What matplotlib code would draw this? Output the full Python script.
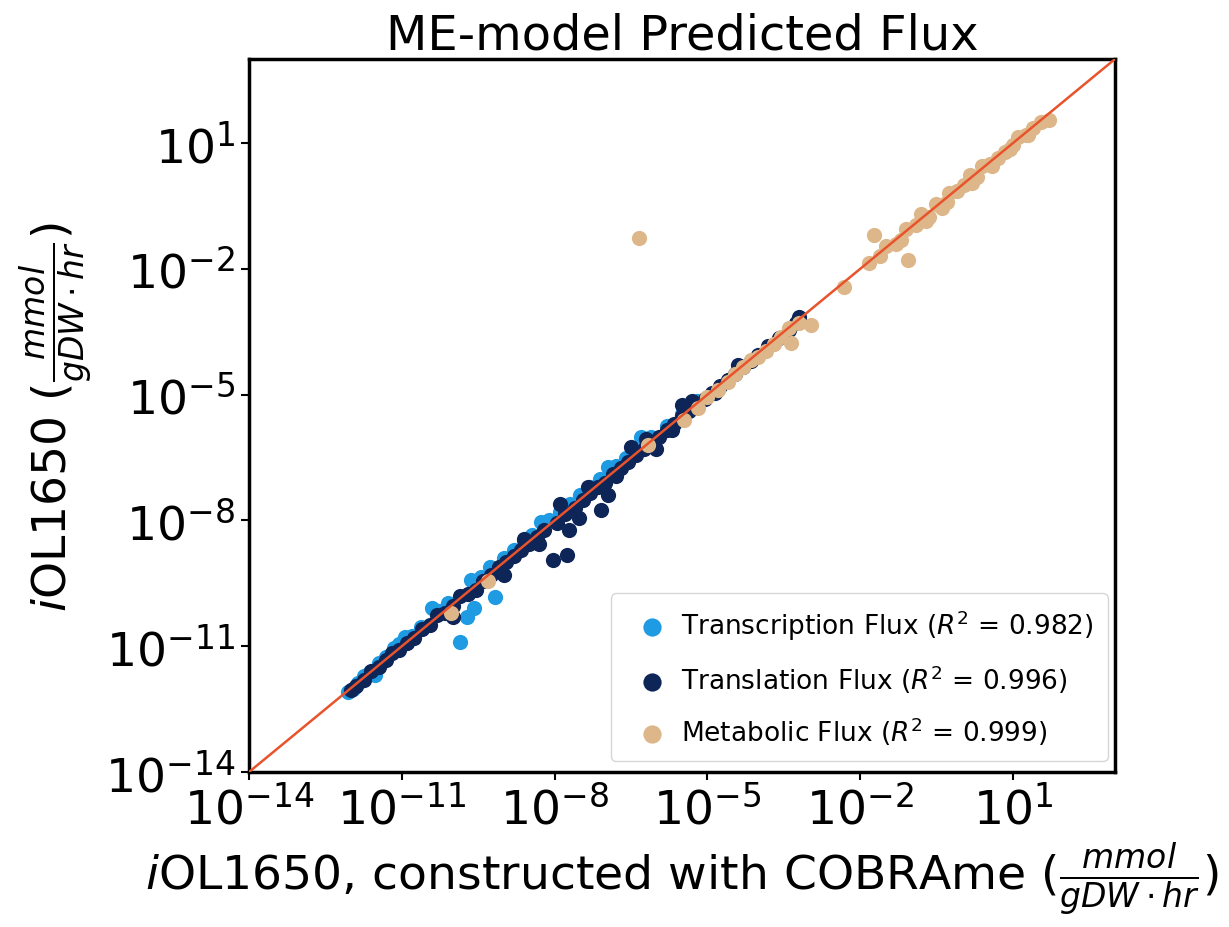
import numpy as np
import matplotlib
matplotlib.use("Agg")
import matplotlib.pyplot as plt

# log10 values
trans_x = [-12.05, -11.95, -11.85, -11.75, -11.62, -11.52, -11.45, -11.30, -11.15, -11.05,
           -10.93, -10.80, -10.62, -10.40, -10.25, -10.10, -9.85, -9.71, -9.65, -9.59,
           -9.45, -9.26, -9.16, -9.00, -8.80, -8.60, -8.45, -8.27, -8.10, -7.90,
           -7.70, -7.50, -7.30, -7.10, -6.95, -6.80, -6.60, -6.30, -6.10, -5.80,
           -5.50, -5.20]
trans_y = [-12.10, -12.02, -11.88, -11.70, -11.62, -11.68, -11.40, -11.25, -11.05, -10.95,
           -10.78, -10.75, -10.55, -10.09, -10.15, -9.98, -10.90, -10.30, -9.42, -10.09,
           -9.35, -9.11, -9.82, -8.90, -8.70, -8.50, -8.35, -8.03, -8.00, -7.80,
           -7.60, -7.40, -7.20, -7.00, -6.72, -6.70, -6.50, -6.00, -6.00, -5.75,
           -5.45, -5.15]

transl_x = [-12.00, -11.90, -11.75, -11.60, -11.45, -11.30, -11.20, -11.05, -10.90, -10.75,
            -10.60, -10.45, -10.30, -10.15, -10.00, -10.00, -9.85, -9.70, -9.55, -9.40,
            -9.25, -9.10, -9.00, -8.95, -8.80, -8.65, -8.50, -8.35, -8.20, -8.04,
            -7.95, -7.90, -7.80, -7.76, -7.72, -7.60, -7.52, -7.45, -7.30, -7.15,
            -7.09, -7.00, -6.95, -6.85, -6.70, -6.55, -6.50, -6.40, -6.25, -6.10,
            -6.00, -5.95, -5.80, -5.65, -5.50, -5.50, -5.35, -5.20, -5.05, -4.90,
            -4.75, -4.60, -4.45, -4.30, -4.15, -4.00, -3.80, -3.60, -3.40, -3.25,
            -3.20, -8.60, -8.30, -7.35, -6.80, -6.20, -5.70, -5.30, -4.85, -4.40]
transl_y = [-12.05, -11.95, -11.80, -11.60, -11.50, -11.32, -11.15, -11.10, -10.92, -10.80,
            -10.60, -10.50, -10.25, -10.20, -10.05, -10.30, -9.80, -9.75, -9.65, -9.45,
            -9.30, -9.12, -9.30, -8.98, -8.85, -8.70, -8.55, -8.40, -8.22, -8.94,
            -8.05, -7.60, -7.85, -8.82, -8.22, -7.70, -7.94, -7.50, -7.35, -7.20,
            -7.75, -7.10, -7.40, -6.90, -6.75, -6.60, -6.25, -6.45, -6.30, -6.15,
            -6.30, -6.00, -5.85, -5.70, -5.50, -5.25, -5.40, -5.25, -5.10, -4.95,
            -4.80, -4.65, -4.50, -4.35, -4.20, -4.05, -3.85, -3.65, -3.45, -3.30,
            -3.15, -8.45, -8.55, -7.20, -6.95, -6.05, -5.85, -5.15, -4.95, -4.30]

metab_x = [-10.04, -9.31, -6.34, -6.17, -5.46, -5.18, -5.00, -4.79, -4.60, -4.45,
           -4.30, -4.14, -4.00, -3.85, -3.70, -3.55, -3.35, -3.40, -3.20, -2.96,
           -2.31, -1.83, -1.72, -1.50, -1.30, -1.05, -1.10, -0.90, -0.80, -0.65,
           -0.50, -0.40, -0.25, -0.10, 0.05, 0.15, 0.30, 0.40, 0.55, 0.70,
           0.85, 1.00, 1.10, 1.25, 1.40, 1.55, 1.71, -1.60, -1.20, -0.70,
           -0.30, 0.20, 0.60, 0.95, 1.30]
metab_y = [-10.20, -9.45, -1.26, -6.20, -5.60, -5.31, -5.05, -4.88, -4.70, -4.50,
           -4.35, -4.17, -4.10, -3.95, -3.80, -3.62, -3.76, -3.42, -3.28, -3.33,
           -2.42, -1.85, -1.18, -1.45, -1.40, -1.78, -1.05, -0.95, -0.70, -0.75,
           -0.45, -0.55, -0.20, -0.15, 0.00, 0.25, 0.20, 0.45, 0.50, 0.65,
           0.80, 0.95, 1.15, 1.20, 1.35, 1.50, 1.56, -1.70, -1.30, -0.85,
           -0.40, 0.05, 0.45, 0.85, 1.20]

labels = [r"Transcription Flux ($R^2$ = 0.982)",
          r"Translation Flux ($R^2$ = 0.996)",
          r"Metabolic Flux ($R^2$ = 0.999)"]
colors = ["#1E9BE2", "#0E2558", "#DDB789"]
limits = [1e-14, 1e3]
tick_vals = [1e-14, 1e-11, 1e-8, 1e-5, 1e-2, 1e1]

fig = plt.figure(figsize=(12.29, 9.28), dpi=100)
ax = fig.add_axes([0.2026, 0.167, 0.7044, 0.768])

for xs, ys, lab, col in [(trans_x, trans_y, labels[0], colors[0]),
                         (transl_x, transl_y, labels[1], colors[1]),
                         (metab_x, metab_y, labels[2], colors[2])]:
    ax.scatter(10.0 ** np.array(xs), 10.0 ** np.array(ys), s=120, color=col,
               label=lab, linewidths=0, zorder=2)

ax.plot(limits, limits, color="#E8532C", lw=1.8, zorder=3)
ax.set_xscale("log")
ax.set_yscale("log")
ax.set_xlim(limits)
ax.set_ylim(limits)
ax.set_xticks(tick_vals)
ax.set_yticks(tick_vals)
ax.minorticks_off()
ax.tick_params(labelsize=34, length=6, width=1.5, pad=4)
for sp in ax.spines.values():
    sp.set_linewidth(2.5)

ax.set_title("ME-model Predicted Flux", fontsize=34.5, pad=8)
ax.set_xlabel(r"$i$OL1650, constructed with COBRAme ($\frac{mmol}{gDW \cdot hr}$)",
              fontsize=34, labelpad=4)
ax.set_ylabel(r"$i$OL1650 ($\frac{mmol}{gDW \cdot hr}$)", fontsize=34, labelpad=6)

leg = ax.legend(loc="lower right", fontsize=19, scatterpoints=1, borderpad=0.55,
                labelspacing=0.75, handletextpad=0.1, markerscale=1.2,
                borderaxespad=0.0, bbox_to_anchor=(0.992, 0.015))

fig.savefig("out.png", dpi=100)
